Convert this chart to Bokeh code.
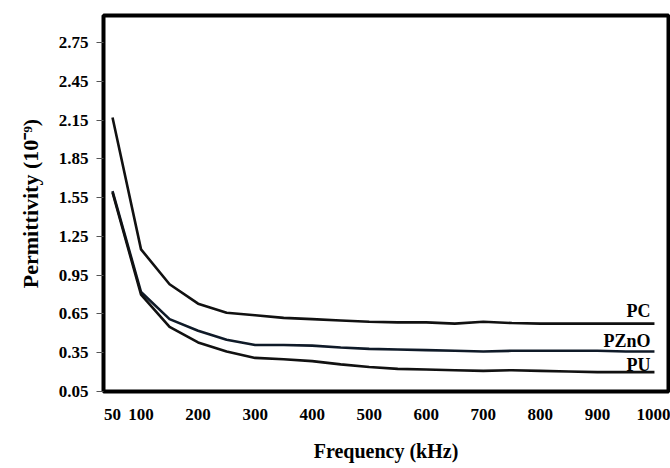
from bokeh.plotting import figure
from bokeh.models import FixedTicker, ColumnDataSource
from bokeh.core.properties import value
from bokeh.embed import file_html
from bokeh.resources import INLINE

# ---- data ----
freq_khz = [50, 100, 150, 200, 250, 300, 350, 400, 450, 500,
            550, 600, 650, 700, 750, 800, 850, 900, 950, 1000]
pc = [2.17, 1.15, 0.88, 0.73, 0.66, 0.64, 0.62, 0.61, 0.60, 0.59,
      0.585, 0.585, 0.575, 0.59, 0.58, 0.575, 0.575, 0.575, 0.575, 0.575]
pzno = [1.60, 0.82, 0.61, 0.52, 0.45, 0.41, 0.41, 0.405, 0.39, 0.38,
        0.375, 0.37, 0.365, 0.36, 0.365, 0.365, 0.365, 0.365, 0.36, 0.36]
pu = [1.59, 0.80, 0.55, 0.43, 0.36, 0.31, 0.30, 0.285, 0.26, 0.24,
      0.225, 0.22, 0.215, 0.21, 0.215, 0.21, 0.205, 0.20, 0.20, 0.20]
series_names = ["PC", "PZnO", "PU"]
x_ticks = [50, 100, 200, 300, 400, 500, 600, 700, 800, 900, 1000]
y_ticks = [0.05, 0.35, 0.65, 0.95, 1.25, 1.55, 1.85, 2.15, 2.45, 2.75]

FONT = "Liberation Serif"

p = figure(width=670, height=468, output_backend="svg", toolbar_location=None,
           x_range=(34.2, 1024.6), y_range=(0.05, 2.96),
           min_border_left=103, min_border_right=2, min_border_top=15,
           min_border_bottom=77)

p.background_fill_color = "white"
p.border_fill_color = "white"
p.outline_line_color = "black"
p.outline_line_width = 4
p.xgrid.grid_line_color = None
p.ygrid.grid_line_color = None

# axes
p.xaxis.ticker = FixedTicker(ticks=x_ticks)
p.yaxis.ticker = FixedTicker(ticks=y_ticks)
p.yaxis.major_label_overrides = {t: f"{t:.2f}" for t in y_ticks}

for ax in (p.xaxis, p.yaxis):
    ax.axis_line_color = None
    ax.minor_tick_line_color = None
    ax.major_label_text_font = FONT
    ax.major_label_text_font_style = "bold"
    ax.major_label_text_font_size = "17px"
    ax.major_label_text_color = "black"
    ax.axis_label_text_font = FONT
    ax.axis_label_text_font_style = "bold"
    ax.axis_label_text_color = "black"

p.xaxis.major_tick_line_color = None
p.xaxis.major_tick_out = 0
p.xaxis.major_tick_in = 0
p.xaxis.major_label_standoff = 17
p.xaxis.axis_label = "Frequency (kHz)"
p.xaxis.axis_label_text_font_size = "20px"
p.xaxis.axis_label_standoff = 17

p.yaxis.major_tick_line_color = "#555555"
p.yaxis.major_tick_line_width = 1
p.yaxis.major_tick_out = 7
p.yaxis.major_tick_in = 0
p.yaxis.major_label_standoff = 8
p.yaxis.axis_label = "Permittivity (10\u207b\u2079)"
p.yaxis.axis_label_text_font_size = "22px"
p.yaxis.axis_label_standoff = 13

# curves
series = [pc, pzno, pu]
colors = ["#111111", "#0f1a28", "#111111"]
offsets = [-13, -10, -7]
for name, ys, col, off in zip(series_names, series, colors, offsets):
    p.line(freq_khz, ys, line_color=col, line_width=2.6, line_join="round")
    src = ColumnDataSource(dict(x=[freq_khz[-1]], y=[ys[-1]], t=[name]))
    p.text(x="x", y="y", text="t", source=src, text_align="right",
           text_baseline="alphabetic", x_offset=-4, y_offset=off,
           text_font=value(FONT), text_font_style="bold",
           text_font_size="18px", text_color="black")

open("out.html", "w").write(file_html(p, INLINE))
